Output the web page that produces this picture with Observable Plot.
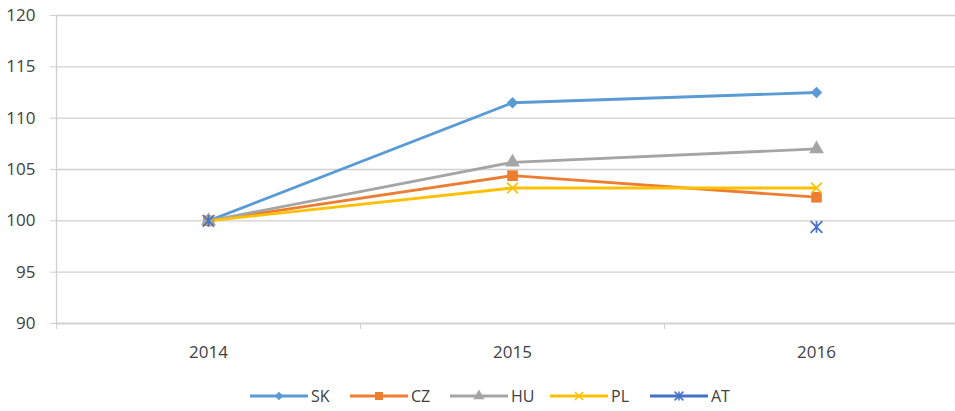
<!DOCTYPE html>
<html><head><meta charset="utf-8">
<script src="https://cdn.jsdelivr.net/npm/d3@7"></script>
<script src="https://cdn.jsdelivr.net/npm/@observablehq/plot@0.6"></script>
<style>
body{margin:0;background:#fff;font-family:"Open Sans",sans-serif;}
#legend{height:31px;padding-left:250px;display:flex;align-items:center;}
.item{width:100px;display:flex;align-items:center;font-size:16px;color:#404040;}
.item svg{display:block;margin-right:3px;}
</style></head><body><div id="chart"></div><div id="legend"></div>
<script>
const years = [2014, 2015, 2016];
const SK = [100, 111.5, 112.5];
const CZ = [100, 104.4, 102.3];
const HU = [100, 105.7, 107.0];
const PL = [100, 103.2, 103.2];
const AT = [100, null, 99.4];
const seriesNames = ["SK", "CZ", "HU", "PL", "AT"];
const seriesValues = [SK, CZ, HU, PL, AT];
const seriesColors = ["#5b9bd5", "#ed7d31", "#a5a5a5", "#ffc000", "#4472c4"];
const yTicks = [90, 95, 100, 105, 110, 115, 120];
const xBounds = [2013.5, 2014.5, 2015.5, 2016.5];

// Excel-style "star" marker: an X crossed by a vertical stroke
const excelStar = {
  draw(context, size) {
    const r = Math.sqrt(size) / 2;
    context.moveTo(-r, -r); context.lineTo(r, r);
    context.moveTo(r, -r); context.lineTo(-r, r);
    context.moveTo(0, -r); context.lineTo(0, r);
  }
};
const seriesSymbols = [d3.symbolDiamond2, d3.symbolSquare, d3.symbolTriangle, d3.symbolTimes, excelStar];
const seriesFilled = [true, true, true, false, false];
const seriesR = [5.2, 6, 5.5, 5, 6.6];

const gridColor = "#d0d0d0";
const textColor = "#404040";

const marks = [
  Plot.gridY(yTicks, {stroke: gridColor, strokeOpacity: 1, strokeWidth: 1.3}),
  Plot.ruleY([90], {stroke: gridColor, strokeWidth: 1.3}),
  Plot.ruleX([xBounds[0]], {y1: 90, y2: 120, stroke: gridColor, strokeWidth: 1.3}),
  Plot.axisY({ticks: yTicks, tickSize: 6, tickPadding: 15, fontSize: 17, stroke: gridColor, fill: textColor, label: null}),
  Plot.axisX({ticks: xBounds.slice(0, 3), tickSize: 6, tickFormat: () => "", stroke: gridColor, label: null}),
  Plot.axisX({ticks: years, tickSize: 0, tickPadding: 22, fontSize: 17, fill: textColor, tickFormat: d => String(d), label: null})
];

seriesNames.forEach((name, i) => {
  const rows = years.map((yr, j) => ({year: yr, value: seriesValues[i][j], series: name}));
  marks.push(Plot.line(rows, {x: "year", y: "value", stroke: seriesColors[i], strokeWidth: 2.8}));
});
seriesNames.forEach((name, i) => {
  const rows = years.map((yr, j) => ({year: yr, value: seriesValues[i][j], series: name})).filter(d => d.value != null);
  const opts = {x: "year", y: "value", symbol: seriesSymbols[i], r: seriesR[i]};
  if (seriesFilled[i]) { opts.fill = seriesColors[i]; opts.stroke = "none"; }
  else { opts.stroke = seriesColors[i]; opts.fill = "none"; opts.strokeWidth = 1.7; }
  marks.push(Plot.dot(rows, opts));
});

const chart = Plot.plot({
  width: 955,
  height: 380,
  marginLeft: 56,
  marginRight: 0,
  marginTop: 15,
  marginBottom: 57,
  style: {fontFamily: "'Open Sans', sans-serif", background: "#fff"},
  x: {type: "linear", domain: [xBounds[0], xBounds[3]], range: [56, 968]},
  y: {domain: [90, 120]},
  marks
});
document.getElementById("chart").appendChild(chart);

const legend = d3.select("#legend");
seriesNames.forEach((name, i) => {
  const item = legend.append("div").attr("class", "item");
  const svg = item.append("svg").attr("width", 58).attr("height", 20);
  svg.append("line").attr("x1", 0).attr("x2", 58).attr("y1", 10).attr("y2", 10)
    .attr("stroke", seriesColors[i]).attr("stroke-width", 2.8);
  const r = seriesR[i] * 0.75;
  svg.append("path").attr("transform", "translate(29,10)")
    .attr("d", d3.symbol(seriesSymbols[i], Math.PI * r * r)())
    .attr("fill", seriesFilled[i] ? seriesColors[i] : "none")
    .attr("stroke", seriesFilled[i] ? "none" : seriesColors[i])
    .attr("stroke-width", 1.5);
  item.append("span").text(name);
});
</script>
</body></html>
